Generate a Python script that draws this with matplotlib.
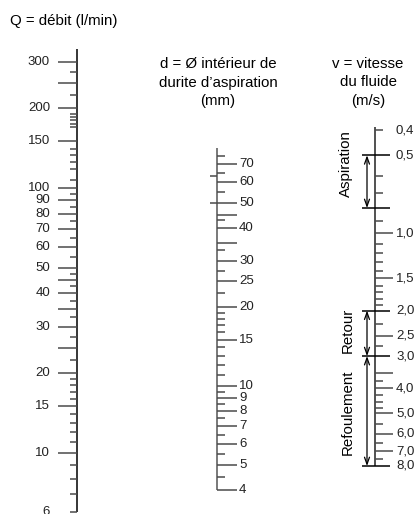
import matplotlib
matplotlib.use('Agg')
import matplotlib.pyplot as plt
import numpy as np
from matplotlib import font_manager

# ---------------- data ----------------
q_labels = [300, 200, 150, 100, 90, 80, 70, 60, 50, 40, 30, 20, 15, 10]
q_long_unlabeled = [250, 45, 35, 25]
q_short = [275, 225, 190, 185, 180, 175, 170, 140, 133, 125, 118, 107, 95, 85,
           75, 65, 55, 47.5, 42.5, 37.5, 32.5, 27.5, 22.5, 19, 18, 17, 16,
           14, 13, 12, 11, 9, 8, 7]
q_short_labeled = [6]
q_axis_span = (6, 335)

d_labels = [70, 60, 50, 40, 30, 25, 20, 15, 10, 9, 8, 7, 6, 5, 4]
d_long_unlabeled = [45, 35]
d_short = [75, 65, 55, 43, 33, 27.5, 22.5, 19, 18, 17, 16, 14, 13, 12, 11,
           9.5, 8.5, 7.5, 6.5, 5.5, 4.5]
d_left_marks = [63]
d_cross = [50]
d_axis_span = (4, 81)

v_labels = [0.4, 0.5, 1.0, 1.5, 2.0, 2.5, 3.0, 4.0, 5.0, 6.0, 7.0, 8.0]
v_label_text = ['0,4', '0,5', '1,0', '1,5', '2,0', '2,5', '3,0', '4,0',
                '5,0', '6,0', '7,0', '8,0']
v_long_unlabeled = [3.5]
v_short = [0.6, 0.7, 0.9, 1.1, 1.2, 1.3, 1.4, 1.6, 1.7, 1.8, 1.9, 2.25, 2.75,
           3.75, 4.25, 4.5, 4.75, 5.5, 6.5, 7.5]
v_short_labeled = [0.4]
v_cross = [0.5, 0.8, 2.0, 3.0, 8.0]
v_axis_span = (0.39, 8.0)
v_ranges = [('Aspiration', 0.5, 0.8), ('Retour', 2.0, 3.0), ('Refoulement', 3.0, 8.0)]

# ---------------- fonts ----------------
avail = {f.name for f in font_manager.fontManager.ttflist}
narrow = ['Liberation Sans Narrow', 'Liberation Sans', 'DejaVu Sans'] if 'Liberation Sans Narrow' in avail \
    else ['Liberation Sans', 'DejaVu Sans']
regular = ['Liberation Sans', 'DejaVu Sans']
plt.rcParams['font.family'] = regular

W, H, DPI = 417, 514, 100
fig = plt.figure(figsize=(W / DPI, H / DPI), dpi=DPI)
fig.patch.set_facecolor('white')


def make_axis(v0, y0, s, down=False):
    ax = fig.add_axes([0, 0, 1, 1])
    ax.set_yscale('log')
    ax.set_xlim(0, W)
    if not down:
        top = 10 ** (np.log10(v0) + y0 / s)
        bot = 10 ** (np.log10(v0) - (H - y0) / s)
    else:
        top = 10 ** (np.log10(v0) - y0 / s)
        bot = 10 ** (np.log10(v0) + (H - y0) / s)
    ax.set_ylim(bot, top)
    ax.axis('off')
    ax.patch.set_alpha(0)
    return ax


TICK = '#4a4a4a'
LBL = 9.5
TFS = 10.8

# ---- Q axis ----
axq = make_axis(10, 453, 265)
xq = 77
axq.vlines(xq, *q_axis_span, color='black', lw=1.1)
axq.hlines(q_labels + q_long_unlabeled, 58, xq, color=TICK, lw=1.1)
axq.hlines(q_short + q_short_labeled, 70, xq, color=TICK, lw=1.1)
for v in q_labels + q_short_labeled:
    axq.text(50, v, f'{v:g}', ha='right', va='center', fontsize=LBL,
             family=narrow, color='#222')

# ---- d axis ----
axd = make_axis(10, 385.7, 262)
xd = 217
axd.vlines(xd, *d_axis_span, color='#555', lw=1.1)
axd.hlines(d_labels + d_long_unlabeled, xd, 237, color=TICK, lw=1.1)
axd.hlines(d_short, xd, 225, color=TICK, lw=1.1)
axd.hlines(d_left_marks, 210, xd, color=TICK, lw=1.1)
axd.hlines(d_cross, 210, xd, color=TICK, lw=1.1)
for v in d_labels:
    axd.text(239, v, f'{v:g}', ha='left', va='center', fontsize=LBL,
             family=narrow, color='#222')

# ---- v axis ----
axv = make_axis(1.0, 233, 258, down=True)
xv = 375
axv.vlines(xv, *v_axis_span, color='#222', lw=1.1)
long_v = [v for v in v_labels if v not in v_cross and v not in v_short_labeled]
axv.hlines(long_v + v_long_unlabeled, xv, 393, color=TICK, lw=1.1)
axv.hlines(v_short + v_short_labeled, xv, 383, color=TICK, lw=1.1)
axv.hlines(v_cross, 362, 390, color='black', lw=1.1)
for v, t in zip(v_labels, v_label_text):
    axv.text(396, v, t, ha='left', va='center', fontsize=LBL,
             family=narrow, color='#222')
for name, a, b in v_ranges:
    axv.annotate('', xy=(367, a), xytext=(367, b),
                 arrowprops=dict(arrowstyle='<->,head_length=0.5,head_width=0.18',
                                 lw=0.9, color='black', shrinkA=0, shrinkB=0))

# ---- titles ----
def ftext(x, y, s, **kw):
    fig.text(x / W, 1 - y / H, s, **kw)

ftext(10, 21, 'Q = débit (l/min)', ha='left', va='center', fontsize=TFS)
for i, line in enumerate(['d = Ø intérieur de', 'durite d’aspiration', '(mm)']):
    ftext(218, 64 + 18.5 * i, line, ha='center', va='center', fontsize=TFS)
for i, line in enumerate(['v = vitesse', 'du fluide', '(m/s)']):
    ftext(368, 64 + 18.5 * i, line, ha='center', va='center', fontsize=TFS)

ftext(346, 164, 'Aspiration', ha='center', va='center', rotation=90, fontsize=TFS)
ftext(348, 330, 'Retour', ha='center', va='center', rotation=90, fontsize=TFS)
ftext(348, 412, 'Refoulement', ha='center', va='center', rotation=90, fontsize=TFS)

fig.savefig('out.png', dpi=DPI, facecolor='white')
